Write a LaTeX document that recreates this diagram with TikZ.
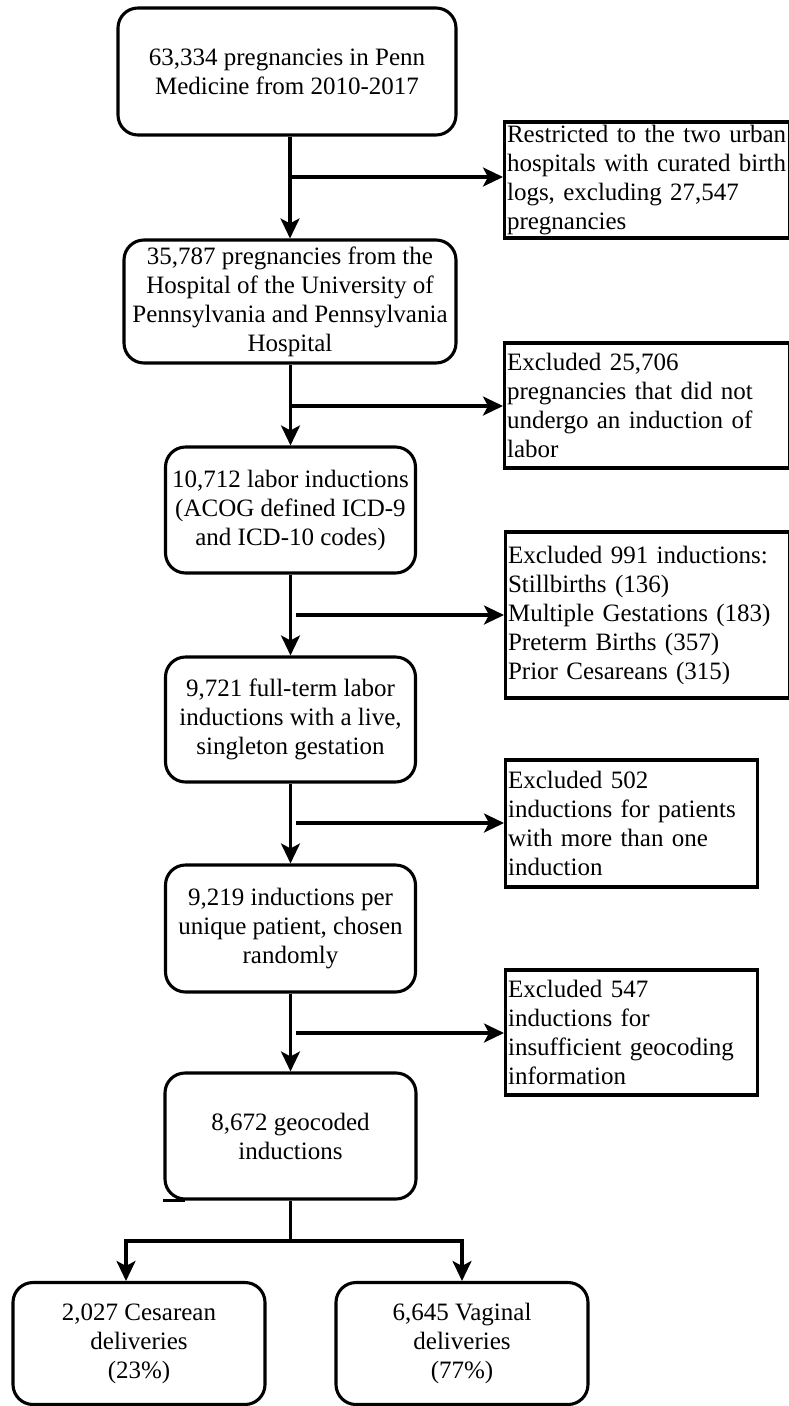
\documentclass[tikz,border=0pt]{standalone}
\usepackage{fontspec}
\setmainfont{Liberation Serif}
\usetikzlibrary{arrows.meta}
\begin{document}
\begin{tikzpicture}[x=1pt,y=-1pt,
  txt/.style={font=\fontsize{25}{29}\selectfont},
  rbox/.style={txt, draw, line width=3.1pt, rounded corners=20pt, align=center, inner sep=2pt},
  xbox/.style={txt, draw, line width=3.1pt, align=left, inner xsep=2.5pt, inner ysep=2pt, anchor=west},
  conn/.style={line width=3.1pt, -{Stealth[length=20pt,width=19pt,inset=5pt]}},
  plain/.style={line width=3.1pt}]
\useasboundingbox (0,0) rectangle (789,1406);
% main column
\node[rbox, minimum width=338pt, minimum height=127pt] (a) at (287,71.5) {63,334 pregnancies in Penn\\Medicine from 2010-2017};
\node[rbox, minimum width=332pt, minimum height=123pt] (b) at (290,301.5) {35,787 pregnancies from the\\Hospital of the University of\\Pennsylvania and Pennsylvania\\Hospital};
\node[rbox, minimum width=250pt, minimum height=126pt] (c) at (290.5,510) {10,712 labor inductions\\(ACOG defined ICD-9\\and ICD-10 codes)};
\node[rbox, minimum width=250pt, minimum height=125pt] (d) at (290.5,719.5) {9,721 full-term labor\\inductions with a live,\\singleton gestation};
\node[rbox, minimum width=250pt, minimum height=127pt] (e) at (290.5,928.5) {9,219 inductions per\\unique patient, chosen\\randomly};
\node[rbox, minimum width=251pt, minimum height=126pt] (f) at (290.5,1136) {8,672 geocoded\\inductions};
\node[rbox, minimum width=252pt, minimum height=122pt] (g) at (139,1343.5) {2,027 Cesarean\\deliveries\\(23\%)};
\node[rbox, minimum width=252pt, minimum height=122pt] (h) at (462,1343.5) {6,645 Vaginal\\deliveries\\(77\%)};
% exclusion boxes
\node[xbox, text width=280pt, minimum height=116pt] (r1) at (503,180) {Restricted to the two urban\\hospitals with curated birth\\logs, excluding 27,547\\pregnancies};
\node[xbox, text width=280pt, minimum height=125pt] (r2) at (503,405.5) {Excluded 25,706\\pregnancies that did not\\undergo an induction of\\labor};
\node[xbox, text width=279pt, minimum height=166pt] (r3) at (504,615) {Excluded 991 inductions:\\Stillbirths (136)\\Multiple Gestations (183)\\Preterm Births (357)\\Prior Cesareans (315)};
\node[xbox, text width=247pt, minimum height=127pt] (r4) at (504,823.5) {Excluded 502\\inductions for patients\\with more than one\\induction};
\node[xbox, text width=247pt, minimum height=125pt] (r5) at (504,1032.5) {Excluded 547\\inductions for\\insufficient geocoding\\information};
% square bottom-left corner detail of box f
\draw[plain] (f.south west) -- ++(22,0);
% trunk
\draw[conn] (a.south -| b.north) -- (b.north);
\draw[conn] (b.south -| c.north) -- (c.north);
\draw[conn] (c.south) -- (d.north);
\draw[conn] (d.south) -- (e.north);
\draw[conn] (e.south) -- (f.north);
% branches
\coordinate (j1) at (290,177);
\coordinate (j2) at (290.5,406);
\coordinate (j3) at (296,615);
\coordinate (j4) at (296,823);
\coordinate (j5) at (296,1033);
\draw[conn] (j1) -- (j1 -| r1.west);
\draw[conn] (j2) -- (j2 -| r2.west);
\draw[conn] (j3) -- (j3 -| r3.west);
\draw[conn] (j4) -- (j4 -| r4.west);
\draw[conn] (j5) -- (j5 -| r5.west);
% split
\coordinate (s) at (290.5,1241);
\coordinate (gl) at (126,1241);
\draw[plain] (f.south) -- (s);
\draw[conn] (s) -- (gl) -- (gl |- g.north);
\draw[conn] (s) -| (h.north);
\end{tikzpicture}
\end{document}
